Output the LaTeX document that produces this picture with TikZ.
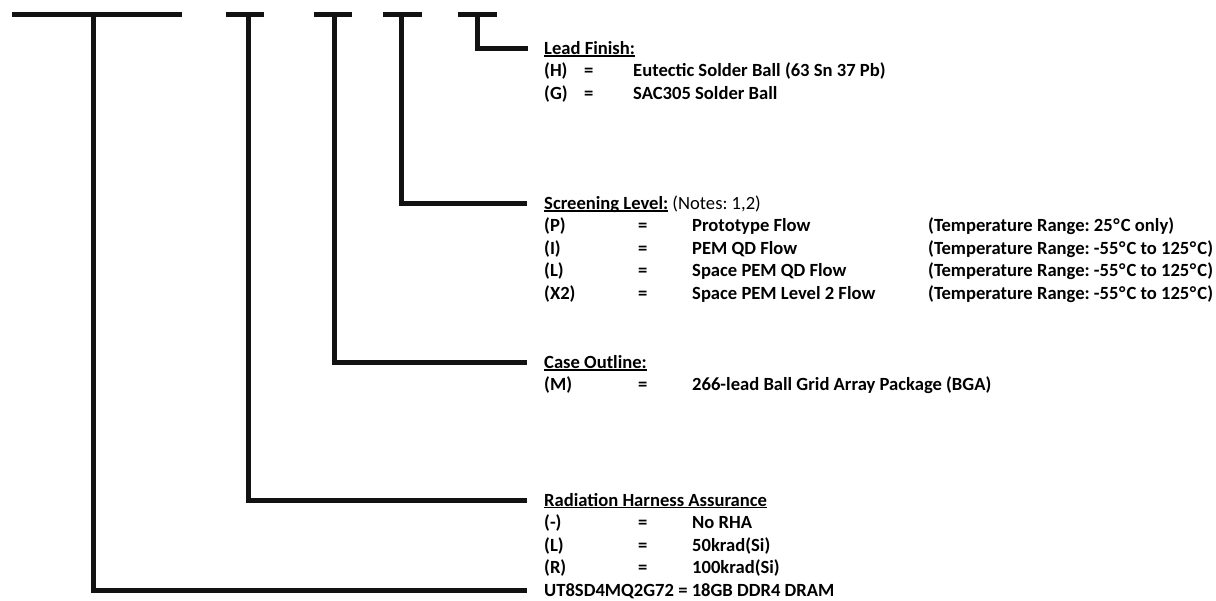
\documentclass[tikz,border=0pt]{standalone}
\usepackage{fontspec}
\setmainfont{Carlito}
\frenchspacing
\newcommand{\ulx}[1]{\setbox0\hbox{#1}\rlap{\rule[-2.3pt]{\wd0}{1.4pt}}\box0\relax}
\newcommand{\dg}{\kern0.5pt°\kern1.2pt}
\begin{document}
\begin{tikzpicture}[x=1pt,y=-1pt,
  bar/.style={line width=5pt, line join=miter, line cap=butt, black!93},
  txt/.style={anchor=base west, inner sep=0pt, font=\fontsize{18.6}{22.5}\selectfont\bfseries}]
\useasboundingbox (0,0) rectangle (1216,601);
% columns
\def\xa{544}\def\xeqL{584}\def\xvL{633}\def\xeq{638}\def\xv{692}\def\xt{928}
% ---------- branch coordinates
\coordinate (b1l) at (12,15);  \coordinate (b1r) at (182,15); \coordinate (b1m) at (93,15);
\coordinate (b1c) at (93,590); \coordinate (b1e) at (527,590);
\coordinate (b2l) at (226,15); \coordinate (b2r) at (264,15); \coordinate (b2m) at (248,15);
\coordinate (b2c) at (248,500); \coordinate (b2e) at (527,500);
\coordinate (b3l) at (314,15); \coordinate (b3r) at (352,15); \coordinate (b3m) at (334,15);
\coordinate (b3c) at (334,362.5); \coordinate (b3e) at (527,362.5);
\coordinate (b4l) at (383,15); \coordinate (b4r) at (422,15); \coordinate (b4m) at (401,15);
\coordinate (b4c) at (401,203.5); \coordinate (b4e) at (527,203.5);
\coordinate (b5l) at (458,15); \coordinate (b5r) at (497,15); \coordinate (b5m) at (477,15);
\coordinate (b5c) at (477,48.5); \coordinate (b5e) at (528,48.5);
\foreach \i in {1,...,5}{
  \draw[bar] (b\i l) -- (b\i r);
  \draw[bar] (b\i m) -- (b\i c) -- (b\i e);
}
% ---------- Lead finish
\node[txt] (lfh) at (\xa,54.5) {\ulx{Lead Finish:}};
\node[txt] (lf1c) at (\xa,77) {(H)};   \node[txt] (lf1e) at (\xeqL,77) {=};   \node[txt] (lf1v) at (\xvL,77) {Eutectic Solder Ball (63 Sn 37 Pb)};
\node[txt] (lf2c) at (\xa,99.5) {(G)}; \node[txt] (lf2e) at (\xeqL,99.5) {=}; \node[txt] (lf2v) at (\xvL,99.5) {SAC305 Solder Ball};
% ---------- Screening level
\node[txt] (slh) at (\xa,209.5) {\ulx{Screening Level:} {\mdseries(Notes: 1,2)}};
\node[txt] (sl1c) at (\xa,232) {(P)};  \node[txt] (sl1e) at (\xeq,232) {=};  \node[txt] (sl1v) at (\xv,232) {Prototype Flow};
\node[txt] (sl1t) at (\xt,232) {(Temperature Range: 25\dg C only)};
\node[txt] (sl2c) at (\xa,254.5) {(I)};  \node[txt] (sl2e) at (\xeq,254.5) {=};  \node[txt] (sl2v) at (\xv,254.5) {PEM QD Flow};
\node[txt] (sl2t) at (\xt,254.5) {(Temperature Range: -55\dg C to 125\dg C)};
\node[txt] (sl3c) at (\xa,277) {(L)};  \node[txt] (sl3e) at (\xeq,277) {=};  \node[txt] (sl3v) at (\xv,277) {Space PEM QD Flow};
\node[txt] (sl3t) at (\xt,277) {(Temperature Range: -55\dg C to 125\dg C)};
\node[txt] (sl4c) at (\xa,299.5) {(X2)};  \node[txt] (sl4e) at (\xeq,299.5) {=};  \node[txt] (sl4v) at (\xv,299.5) {Space PEM Level 2 Flow};
\node[txt] (sl4t) at (\xt,299.5) {(Temperature Range: -55\dg C to 125\dg C)};
% ---------- Case outline
\node[txt] (coh) at (\xa,368.5) {\ulx{Case Outline:}};
\node[txt] (co1c) at (\xa,391) {(M)};  \node[txt] (co1e) at (\xeq,391) {=};  \node[txt] (co1v) at (\xv,391) {266-lead Ball Grid Array Package (BGA)};
% ---------- Radiation
\node[txt] (rhh) at (\xa,506) {\ulx{Radiation Harness Assurance}};
\node[txt] (rh1c) at (\xa,528.5) {(-)};  \node[txt] (rh1e) at (\xeq,528.5) {=};  \node[txt] (rh1v) at (\xv,528.5) {No RHA};
\node[txt] (rh2c) at (\xa,551) {(L)};    \node[txt] (rh2e) at (\xeq,551) {=};    \node[txt] (rh2v) at (\xv,551) {50krad(Si)};
\node[txt] (rh3c) at (\xa,573.5) {(R)};  \node[txt] (rh3e) at (\xeq,573.5) {=};  \node[txt] (rh3v) at (\xv,573.5) {100krad(Si)};
% ---------- Part number
\node[txt] (pn) at (\xa,596) {UT8SD4MQ2G72 = 18GB DDR4 DRAM};
\end{tikzpicture}
\end{document}
